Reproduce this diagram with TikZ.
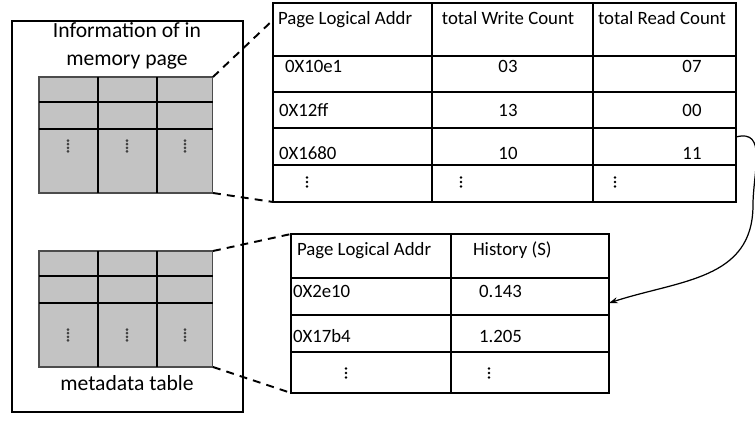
\documentclass[tikz,border=0pt]{standalone}
\usepackage{fontspec}
\setmainfont{Carlito}
\usetikzlibrary{arrows.meta}

\begin{document}
\begin{tikzpicture}[x=0.02cm, y=-0.02cm,
      every node/.append style={inner sep=0pt, outer sep=0pt},
      title/.style={font=\fontsize{12.3}{16}\selectfont, align=center},
      cell/.style={font=\fontsize{10.7}{13}\selectfont},
      gdots/.pic={\foreach \k in {-5.4,-1.8,1.8,5.4} \fill[gray!50!black] (0,\k) circle (0.85pt);},
      wdots/.pic={\foreach \k in {-4.5,0,4.5} \fill (0,\k) circle (0.85pt);}]
    \tikzstyle{grid} = [draw=gray!60!black, line width=0.6pt, fill=gray!47,
                        minimum width=3.48cm, minimum height=2.32cm, anchor=north west]
    \tikzstyle{tab} = [draw, line width=1pt, anchor=north west]
    \tikzstyle{link} = [line width=1.1pt, dash pattern=on 4.5pt off 3.5pt]
    \useasboundingbox (0,0) rectangle (755,423);

    % left frame with the two in-memory tables
    \node (frame) [draw, line width=1pt, minimum width=4.62cm, minimum height=7.82cm,
                   anchor=north west] at (12,21) {};
    \node (info) [title] at (127,46) {Information of in\\memory page};
    \node (meta) [title] at (127,383) {metadata table};
    \foreach \y/\d/\nm in {77/69/memA, 251/84/memB} {
      \node (\nm) [grid] at (39,\y) {};
      \draw[line width=1.5pt] (39,\y+25) -- (213,\y+25);
      \draw[line width=0.8pt] (39,\y+52) -- (213,\y+52);
      \draw[line width=1.6pt] (98,\y) -- (98,\y+116) (157,\y) -- (157,\y+116);
      \foreach \x in {68,127,185}
        \pic (\nm-dot-\x) at (\x,\y+\d) {gdots};
    }

    % write / read counts
    \node (wrTab) [tab, minimum width=9.26cm, minimum height=3.98cm] at (273,3) {};
    \draw[line width=1pt] (432,3) -- (432,202) (593,3) -- (593,202);
    \foreach \r in {56,92,128} \draw[line width=1pt] (273,\r) -- (736,\r);
    \draw[line width=0.6pt] (273,165) -- (736,165);
    \node (wrH1) [cell, anchor=mid west] at (278,20) {Page Logical Addr};
    \node (wrH2) [cell, anchor=mid] at (508,20) {total Write Count};
    \node (wrH3) [cell, anchor=mid] at (662,20) {total Read Count};
    \foreach \ax/\addr/\w/\rd/\yy in {285/0X10e1/03/07/68, 279/0X12ff/13/00/112, 279/0X1680/10/11/155} {
      \node (addr-\yy) [cell, anchor=mid west] at (\ax,\yy) {\addr};
      \node (wc-\yy) [cell, anchor=mid] at (508,\yy) {\w};
      \node (rc-\yy) [cell, anchor=mid] at (692,\yy) {\rd};
    }
    \foreach \x in {307,461,615}
      \pic (wr-dot-\x) at (\x,182) {wdots};

    % history table
    \node (histTab) [tab, minimum width=6.36cm, minimum height=3.18cm] at (291,234) {};
    \draw[line width=1pt] (451,234) -- (451,393);
    \foreach \r in {278,315,352} \draw[line width=1pt] (291,\r) -- (609,\r);
    \node (hiH1) [cell, anchor=mid west] at (297,251) {Page Logical Addr};
    \node (hiH2) [cell, anchor=mid west] at (473,251) {History (S)};
    \node (hiA1) [cell, anchor=mid west] at (293,293) {0X2e10};
    \node (hiV1) [cell, anchor=mid west] at (479,293) {0.143};
    \node (hiA2) [cell, anchor=mid west] at (293,338) {0X17b4};
    \node (hiV2) [cell, anchor=mid west] at (479,338) {1.205};
    \foreach \x in {346,489}
      \pic (hi-dot-\x) at (\x,373) {wdots};

    % connectors
    \coordinate (wrIn) at (273,20);
    \coordinate (wrOut) at (736,137);
    \coordinate (bend) at (753,205);
    \coordinate (histIn) at (609,303);
    \draw[link] (memA.north east) -- (wrIn);
    \draw[link] (memA.south east) -- (wrTab.south west);
    \draw[link] (memB.north east) -- (histTab.north west);
    \draw[link] (memB.south east) -- (histTab.south west);
    \draw[-{Stealth[length=5pt,width=3.5pt]}, line width=0.7pt]
      (wrOut) to[out=15,in=90,looseness=1.2] (bend) to[out=-90,in=18,looseness=1.1] (histIn);
\end{tikzpicture}
\end{document}
